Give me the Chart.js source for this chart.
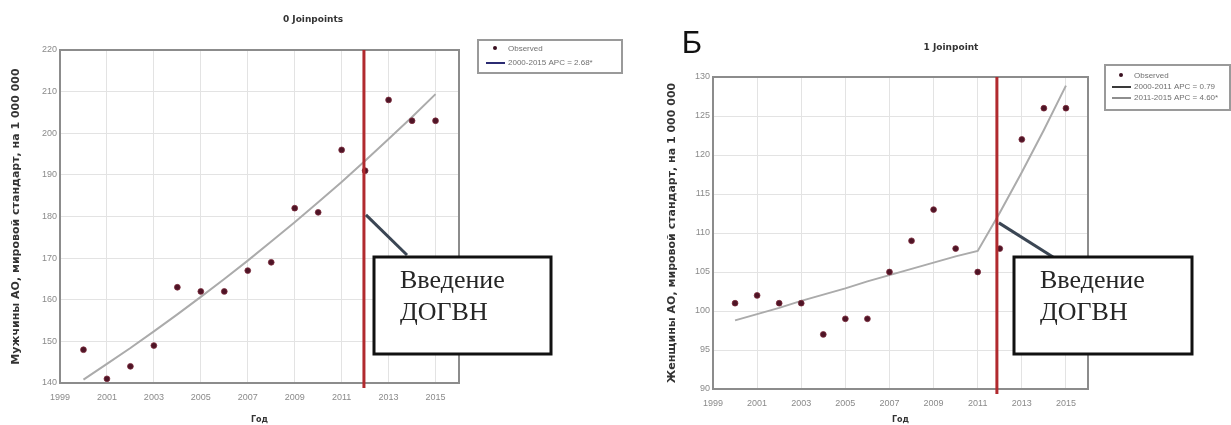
<!DOCTYPE html>
<html>
<head>
<meta charset="utf-8">
<title>Joinpoint: мужчины и женщины</title>
<script src="https://cdn.jsdelivr.net/npm/chart.js@4/dist/chart.umd.min.js"></script>
<style>
  body { margin: 0; background: #fff; }
  #wrap { position: relative; width: 1231px; height: 425px; overflow: hidden; }
  canvas { position: absolute; top: 0; }
  #men { left: 0; }
  #women { left: 645px; }
</style>
</head>
<body>
<div id="wrap">
  <canvas id="men" width="645" height="425"></canvas>
  <canvas id="women" width="586" height="425"></canvas>
</div>
<script>
// data
const years = [2000, 2001, 2002, 2003, 2004, 2005, 2006, 2007, 2008, 2009, 2010, 2011, 2012, 2013, 2014, 2015];
const yearTicks = [1999, 2001, 2003, 2005, 2007, 2009, 2011, 2013, 2015];

const menObserved = [148, 141, 144, 149, 163, 162, 162, 167, 169, 182, 181, 196, 191, 208, 203, 203];
const menTrend = [140.8, 144.6, 148.4, 152.4, 156.5, 160.7, 165.0, 169.4, 174.0, 178.6, 183.4, 188.3, 193.4, 198.6, 203.9, 209.4];
const menTicks = [140, 150, 160, 170, 180, 190, 200, 210, 220];

const womenObserved = [101, 102, 101, 101, 97, 99, 99, 105, 109, 113, 108, 105, 108, 122, 126, 126];
const womenTrend = [98.8, 99.6, 100.4, 101.3, 102.1, 102.9, 103.8, 104.6, 105.4, 106.2, 107.0, 107.7, 112.6, 117.8, 123.2, 128.9];
const womenTicks = [90, 95, 100, 105, 110, 115, 120, 125, 130];

const menLegend = ['Observed', '2000-2015 APC = 2.68*'];
const womenLegend = ['Observed', '2000-2011 APC = 0.79', '2011-2015 APC = 4.60*'];
const calloutText = ['Введение', 'ДОГВН'];

const W = 1231, H = 425;

// draws the frame, the red marker line, the callout, legend and titles
const deco = {
  id: 'deco',
  afterDraw(chart, args, o) {
    const ctx = chart.ctx;
    const a = chart.chartArea;
    const xs = chart.scales.x, ys = chart.scales.y;
    ctx.save();

    ctx.strokeStyle = '#8c8c8c';
    ctx.lineWidth = 2;
    ctx.strokeRect(a.left, a.top, a.right - a.left, a.bottom - a.top);

    const rx = xs.getPixelForValue(o.markYear);
    ctx.strokeStyle = '#b12a2e';
    ctx.lineWidth = 3;
    ctx.beginPath();
    ctx.moveTo(rx, a.top);
    ctx.lineTo(rx, a.bottom + 5);
    ctx.stroke();

    // pointer from the red line to the box
    ctx.strokeStyle = '#3b4654';
    ctx.lineWidth = 3;
    ctx.beginPath();
    ctx.moveTo(rx + 2, ys.getPixelForValue(o.pointAt));
    ctx.lineTo(o.tip[0], o.tip[1]);
    ctx.stroke();

    const b = o.box;
    ctx.fillStyle = '#fff';
    ctx.fillRect(b[0], b[1], b[2], b[3]);
    ctx.strokeStyle = '#111';
    ctx.lineWidth = 3;
    ctx.strokeRect(b[0], b[1], b[2], b[3]);
    ctx.fillStyle = '#262626';
    ctx.font = '26px "Liberation Serif"';
    ctx.textBaseline = 'alphabetic';
    ctx.textAlign = 'left';
    calloutText.forEach((t, i) => ctx.fillText(t, b[0] + 26, b[1] + 31 + i * 32));

    // legend
    const L = o.legend;
    ctx.strokeStyle = '#9a9a9a';
    ctx.lineWidth = 2;
    ctx.strokeRect(L.box[0], L.box[1], L.box[2], L.box[3]);
    ctx.font = '8px "Liberation Sans"';
    ctx.textBaseline = 'middle';
    L.labels.forEach((t, i) => {
      const y = L.y0 + i * L.dy;
      if (i === 0) {
        ctx.fillStyle = '#3a1020';
        ctx.beginPath();
        ctx.arc(L.x0 + 9, y - 1, 2, 0, Math.PI * 2);
        ctx.fill();
      } else {
        ctx.strokeStyle = L.colors[i - 1];
        ctx.lineWidth = 2;
        ctx.beginPath();
        ctx.moveTo(L.x0, y);
        ctx.lineTo(L.x0 + 19, y);
        ctx.stroke();
      }
      ctx.fillStyle = '#707070';
      ctx.fillText(t, L.x0 + 22, y);
    });

    ctx.fillStyle = '#333';
    ctx.font = 'bold 9px "DejaVu Sans"';
    ctx.textAlign = 'center';
    ctx.fillText(o.title, o.titleAt[0], o.titleAt[1]);

    if (o.letter) {
      ctx.fillStyle = '#111';
      ctx.font = '31px "Liberation Sans"';
      ctx.fillText(o.letter, o.letterAt[0], o.letterAt[1]);
    }
    ctx.restore();
  }
};

function panel(id, cfg) {
  const canvas = document.getElementById(id);
  const cw = canvas.width;
  const pts = years.map((yr, i) => ({x: yr, y: cfg.observed[i]}));
  const fit = years.map((yr, i) => ({x: yr, y: cfg.trend[i]}));
  const tickFont = {family: 'Liberation Sans', size: 9};
  const titleFont = {family: 'DejaVu Sans', size: 11, weight: 'bold'};
  return new Chart(canvas, {
    type: 'scatter',
    data: {
      datasets: [
        {
          label: 'Observed',
          data: pts,
          pointRadius: 2.9,
          backgroundColor: '#4e1426',
          borderColor: '#7c2c3c',
          borderWidth: 0.8,
          order: 0
        },
        {
          type: 'line',
          label: 'trend',
          data: fit,
          showLine: true,
          pointRadius: 0,
          borderColor: '#ababab',
          borderWidth: 2,
          tension: 0,
          order: 1
        }
      ]
    },
    options: {
      responsive: false,
      animation: false,
      devicePixelRatio: 1,
      layout: {padding: {left: cfg.area.left - 60, top: cfg.area.top, right: cw - cfg.area.right, bottom: 0}},
      plugins: {
        legend: {display: false},
        tooltip: {enabled: false},
        deco: cfg.deco
      },
      scales: {
        x: {
          type: 'linear',
          min: 1999,
          max: 2016,
          afterBuildTicks: s => { s.ticks = yearTicks.map(v => ({value: v})); },
          afterFit: s => { s.height = H - cfg.area.bottom; },
          grid: {color: '#e3e3e3', drawTicks: false},
          border: {display: false},
          ticks: {padding: 9, color: '#8a8a8a', font: tickFont, maxRotation: 0, autoSkip: false, callback: v => String(v)},
          title: {display: true, text: 'Год', color: '#333', font: {family: 'DejaVu Sans', size: 8, weight: 'bold'}, padding: 0}
        },
        y: {
          min: cfg.ticks[0],
          max: cfg.ticks[cfg.ticks.length - 1],
          afterBuildTicks: s => { s.ticks = cfg.ticks.map(v => ({value: v})); },
          afterFit: s => { s.width = 60; },
          grid: {color: '#e3e3e3', drawTicks: false},
          border: {display: false},
          ticks: {padding: 3, color: '#8a8a8a', font: tickFont, callback: v => String(v)},
          title: {display: true, text: cfg.yTitle, color: '#333', font: titleFont, padding: {top: cfg.yTitlePad, bottom: 0}}
        }
      }
    },
    plugins: [deco]
  });
}

panel('men', {
  observed: menObserved,
  trend: menTrend,
  ticks: menTicks,
  yTitle: 'Мужчины АО, мировой стандарт, на 1 000 000',
  yTitlePad: 10,
  area: {left: 60, top: 50, right: 459, bottom: 383},
  deco: {
    markYear: 2011.95,
    pointAt: 180.4,
    tip: [407, 255],
    box: [374, 257, 177, 97],
    legend: {box: [478, 40, 144, 33], x0: 486, y0: 49, dy: 14, labels: menLegend, colors: ['#2b2b72']},
    title: '0 Joinpoints',
    titleAt: [313, 20]
  }
});

panel('women', {
  observed: womenObserved,
  trend: womenTrend,
  ticks: womenTicks,
  yTitle: 'Женщины АО, мировой стандарт, на 1 000 000',
  yTitlePad: 13,
  area: {left: 68, top: 77, right: 443, bottom: 389},
  deco: {
    markYear: 2011.87,
    pointAt: 111.3,
    tip: [408, 257],
    box: [369, 257, 178, 97],
    legend: {box: [460, 65, 125, 45], x0: 467, y0: 76, dy: 11, labels: womenLegend, colors: ['#3a3a3a', '#8e8e8e']},
    title: '1 Joinpoint',
    titleAt: [306, 48],
    letter: 'Б',
    letterAt: [47, 44]
  }
});
</script>
</body>
</html>
